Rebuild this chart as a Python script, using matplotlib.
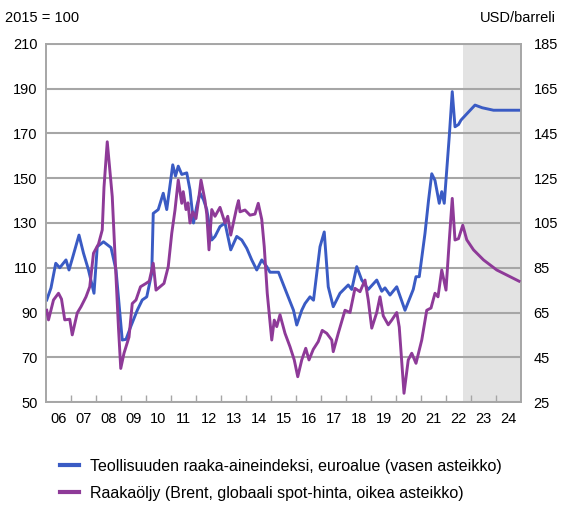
import matplotlib
matplotlib.use('Agg')
import matplotlib.pyplot as plt
from matplotlib.lines import Line2D
import numpy as np

plt.rcParams['font.family'] = ['Liberation Sans', 'DejaVu Sans']

# Teollisuuden raaka-aineindeksi (2015 = 100), decimal years
blue_t = [2006.03, 2006.2, 2006.39, 2006.55, 2006.8, 2006.92, 2007.05, 2007.32, 2007.5, 2007.7,
          2007.92, 2008.05, 2008.3, 2008.6, 2008.8, 2009.05, 2009.2, 2009.39, 2009.65, 2009.85,
          2010.03, 2010.23, 2010.29, 2010.49, 2010.69, 2010.83, 2011.07, 2011.18, 2011.29, 2011.43,
          2011.63, 2011.76, 2011.9, 2012.03, 2012.16, 2012.3, 2012.43, 2012.63, 2012.76, 2012.96,
          2013.16, 2013.39, 2013.63, 2013.83, 2014.03, 2014.23, 2014.43, 2014.63, 2014.83, 2014.96,
          2015.3, 2015.63, 2015.9, 2016.03, 2016.23, 2016.36, 2016.56, 2016.7, 2016.96, 2017.13,
          2017.29, 2017.49, 2017.76, 2018.09, 2018.23, 2018.43, 2018.63, 2018.89, 2019.23, 2019.43,
          2019.56, 2019.76, 2020.03, 2020.36, 2020.69, 2020.8, 2020.93, 2021.16, 2021.3, 2021.43,
          2021.56, 2021.73, 2021.83, 2021.93, 2022.13, 2022.25, 2022.36, 2022.5, 2022.6, 2022.85,
          2023.16, 2023.45, 2023.9, 2024.92]
blue_v = [95.6, 101, 112, 110, 113.5, 109, 114, 124.6, 116.5, 109,
          98.6, 119.4, 121.6, 119, 109, 77.7, 78, 83.7, 91, 95.6,
          97, 107.6, 134.3, 136, 143.3, 136, 156, 151, 155.4, 151.7,
          152.4, 144.7, 130, 137.5, 143.4, 140.4, 136, 122.4, 124, 128.4,
          130, 118, 124, 122.4, 118.7, 113.5, 109, 113.5, 110.5, 108,
          108, 98.6, 91, 84.4, 91, 94, 97, 95.5, 119.4, 126,
          101.5, 92.6, 98.6, 102.3, 100.3, 110.5, 104.5, 100.3, 104.5, 99.5,
          101, 97.8, 101.5, 91, 100.3, 106, 106, 125.4, 140, 152,
          149, 138.8, 144, 138.8, 168.6, 188.7, 173, 174, 176, 179,
          182.7, 181.5, 180.4, 180.4]

# Raakaoljy, Brent (USD/barreli), decimal years
oil_t = [2006.03, 2006.1, 2006.3, 2006.5, 2006.62, 2006.75, 2006.95, 2007.05, 2007.25, 2007.4,
         2007.6, 2007.75, 2007.9, 2008.1, 2008.25, 2008.32, 2008.45, 2008.65, 2008.8, 2008.9,
         2008.99, 2009.12, 2009.32, 2009.45, 2009.6, 2009.78, 2010.0, 2010.13, 2010.29, 2010.4,
         2010.56, 2010.72, 2010.89, 2011.03, 2011.16, 2011.29, 2011.43, 2011.49, 2011.6, 2011.68,
         2011.76, 2011.87, 2012.0, 2012.1, 2012.2, 2012.36, 2012.43, 2012.52, 2012.63, 2012.76,
         2012.96, 2013.16, 2013.27, 2013.39, 2013.63, 2013.7, 2013.76, 2013.96, 2014.16, 2014.36,
         2014.49, 2014.63, 2014.73, 2014.85, 2015.03, 2015.13, 2015.23, 2015.36, 2015.56, 2015.76,
         2015.93, 2016.07, 2016.23, 2016.39, 2016.52, 2016.69, 2016.89, 2017.05, 2017.23, 2017.43,
         2017.49, 2017.69, 2017.96, 2018.16, 2018.36, 2018.56, 2018.76, 2018.89, 2019.03, 2019.23,
         2019.36, 2019.49, 2019.69, 2019.83, 2020.03, 2020.13, 2020.32, 2020.49, 2020.63, 2020.8,
         2021.03, 2021.23, 2021.4, 2021.56, 2021.68, 2021.83, 2022.0, 2022.13, 2022.25, 2022.36,
         2022.5, 2022.67, 2022.83, 2023.1, 2023.5, 2024.03, 2024.92]
oil_v = [66, 61.7, 70.6, 73.6, 71, 61.7, 62, 55, 64.8, 67.6,
         72, 76.5, 91.5, 95.6, 101.9, 121, 141.3, 116.8, 81, 58,
         40, 46.8, 54, 69, 70.6, 76.5, 78, 79, 87, 75,
         76.5, 78, 85.5, 100.4, 110.8, 124.2, 113.8, 119, 111, 114,
         105, 110, 107, 115, 124.2, 115, 109, 93, 111, 108,
         112, 105, 108, 99.6, 112, 115, 110, 110.8, 108.5, 109,
         113.8, 106.6, 94.4, 73.6, 52.7, 61.6, 58.7, 64, 55.7, 49.7,
         43.8, 36.3, 43.8, 49, 43.8, 48.5, 52, 57, 55.7, 52.7,
         47.5, 55.7, 66, 65, 75.8, 74.3, 79.5, 70.6, 58, 65,
         72, 63.5, 59.5, 61.6, 65, 58.5, 28.9, 43.8, 46.8, 42.3,
         52.7, 66, 67, 73.6, 72, 84, 75, 97, 116, 97.4,
         98, 104, 97.5, 93, 88.5, 84, 79]

years = list(range(2006, 2025))
year_labels = ['%02d' % (y % 100) for y in years]
forecast_start = 2022.67

blue = '#3a5bc4'
purple = '#8e3a98'
grid_col = '#a6a6a6'

fig = plt.figure(figsize=(5.61, 5.11), dpi=100)
ax = fig.add_axes([46 / 561, 1 - 402 / 511, 475 / 561, 358 / 511])
ax2 = ax.twinx()

ax.axvspan(forecast_start, 2025, color='#e3e3e3', zorder=0, lw=0)
ax.plot(blue_t, blue_v, color=blue, lw=2.1, zorder=3)
ax2.plot(oil_t, oil_v, color=purple, lw=2.1, zorder=3)

ax.set_xlim(2006, 2025)
ax.set_ylim(50, 210)
ax2.set_ylim(25, 185)

ax.set_yticks(np.arange(50, 211, 20))
ax2.set_yticks(np.arange(25, 186, 20))
ax.yaxis.grid(True, color=grid_col, lw=1.5)
ax.set_axisbelow(True)

ax.set_xticks(range(2007, 2025))
ax.set_xticklabels([])
ax.set_xticks([y + 0.5 for y in years], minor=True)
ax.set_xticklabels(year_labels, minor=True)
ax.tick_params(axis='x', which='major', direction='in', length=5, color=grid_col, width=1)
ax.tick_params(axis='x', which='minor', length=0, pad=7, labelsize=10.5)
ax.tick_params(axis='y', length=0, pad=6, labelsize=10.5)
ax2.tick_params(axis='y', length=0, pad=9, labelsize=10.5)

for a in (ax, ax2):
    for s in a.spines.values():
        s.set_color(grid_col)
        s.set_linewidth(1.2)

fig.text(5 / 561, 1 - 18 / 511, '2015 = 100', fontsize=10.5, va='center', ha='left')
fig.text(556 / 561, 1 - 18 / 511, 'USD/barreli', fontsize=10.5, va='center', ha='right')

handles = [Line2D([], [], color=blue, lw=3), Line2D([], [], color=purple, lw=3)]
labels = ['Teollisuuden raaka-aineindeksi, euroalue (vasen asteikko)',
          'Raakaöljy (Brent, globaali spot-hinta, oikea asteikko)']
fig.legend(handles, labels, loc='upper left', bbox_to_anchor=(60 / 561, 1 - 459 / 511),
           frameon=False, handlelength=1.2, handletextpad=0.7, labelspacing=0.75,
           borderaxespad=0, borderpad=0, fontsize=11.5)

fig.savefig('out.png', dpi=100)
